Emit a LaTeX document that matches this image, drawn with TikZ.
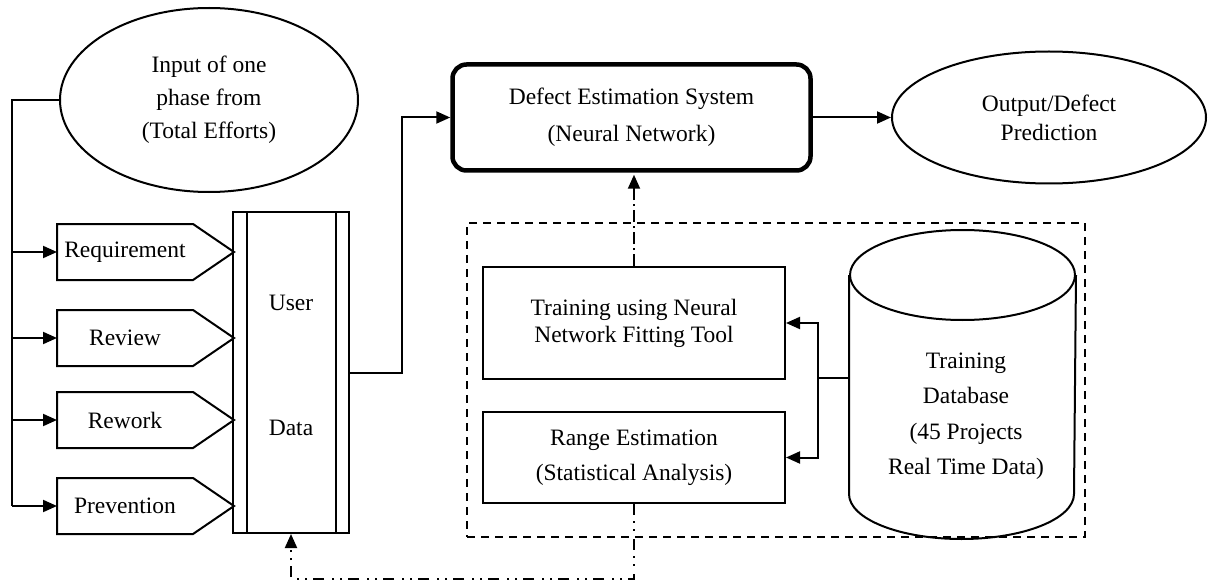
\documentclass[tikz,border=0pt]{standalone}
\usepackage{fontspec}
\setmainfont{Liberation Serif}
\usetikzlibrary{arrows.meta,shapes.geometric,calc}
\begin{document}
\begin{tikzpicture}[x=1pt,y=-1pt,line width=2pt,
  every node/.style={inner sep=0pt,font=\fontsize{23.5}{27}\selectfont},
  arr/.style={-{Triangle[length=14pt,width=12pt]}},
  plainbox/.style={draw,rectangle,align=center},
  phasetag/.style={rectangle,minimum width=134pt,minimum height=54pt},
  oval/.style={draw,ellipse,align=center},
  groupline/.style={dash pattern=on 8pt off 6pt},
  feedline/.style={dash pattern=on 12pt off 4pt on 2pt off 4pt},
  backline/.style={dash pattern=on 11pt off 6pt on 2pt off 6pt on 2pt off 8pt}]

% canvas
\path[use as bounding box,fill=white] (0,0) rectangle (1208,583);

% input ellipse
\node[oval,minimum width=298pt,minimum height=184pt,font=\fontsize{23.5}{33}\selectfont]
  (inp) at (209,100) {Input of one\\phase from\\(Total Efforts)};

% phase tags
\node[phasetag] (req) at (125,252) {Requirement};
\node[phasetag] (rev) at (125,338) {Review};
\node[phasetag] (rwk) at (125,420) {Rework};
\node[phasetag] (prv) at (125,506) {Prevention};
\foreach \n in {req,rev,rwk,prv}{
  \draw (\n.north west) -- (\n.north east) -- ([xshift=41pt]\n.east)
        -- (\n.south east) -- (\n.south west) -- cycle;
}

% user data store
\node[draw,minimum width=116pt,minimum height=321pt] (ud) at (291,372.5) {};
\draw ([xshift=15pt]ud.north west) -- ([xshift=15pt]ud.south west);
\draw ([xshift=-14pt]ud.north east) -- ([xshift=-14pt]ud.south east);
\node (udtop) at (291,303) {User};
\node (udbot) at (291,428) {Data};

% estimation system and output
\node[plainbox,line width=4.5pt,rounded corners=14pt,minimum width=358pt,minimum height=106pt,
  font=\fontsize{23.5}{37}\selectfont] (des) at (631.5,117.5)
  {Defect Estimation System\\(Neural Network)};
\node[oval,minimum width=314pt,minimum height=132pt,font=\fontsize{23.5}{29}\selectfont]
  (out) at (1049,117.5) {Output/Defect\\Prediction};

% training group
\node[draw,groupline,minimum width=618pt,minimum height=314pt] (grp) at (776,380) {};
\node[plainbox,minimum width=302pt,minimum height=112pt,font=\fontsize{23.5}{27}\selectfont]
  (trn) at (634,323) {Training using Neural\\Network Fitting Tool};
\node[plainbox,minimum width=302pt,minimum height=91pt,font=\fontsize{23.5}{35}\selectfont]
  (rng) at (634,457.5) {Range Estimation\\(Statistical Analysis)};

% training database cylinder
\node[rectangle,minimum width=225pt,minimum height=307pt] (db) at (962.5,384.5) {};
\draw ($(db.north west)+(0,45)$) -- ($(db.south west)+(0,-45)$)
  arc[start angle=180,end angle=360,x radius=112.5pt,y radius=45pt]
  -- ($(db.north east)+(0,45)$);
\draw ($(db.north)+(0,45)$) ellipse[x radius=112.5pt,y radius=45pt];
\node[align=center,font=\fontsize{23.5}{35.5}\selectfont] (dbtxt) at (966,416)
  {Training\\Database\\(45 Projects\\Real Time Data)};

% connectors
\coordinate (bus) at (12,506);
\draw (inp.west) -| (bus);
\foreach \n in {req,rev,rwk,prv}{
  \draw[arr] (\n.west -| bus) -- (\n.west);
}
\coordinate (up) at (402,0);
\draw[arr] (ud.east) -| (up |- des.west) -- (des.west);
\draw[arr] (des.east) -- (out.west);
\draw[arr,feedline,shorten >=2pt] (trn.north) -- (trn.north |- des.south);
\coordinate (brk) at (818,378);
\draw (brk -| db.west) -- (brk);
\draw[arr] (brk) |- (trn.east);
\draw[arr] (brk) |- (rng.east);
\coordinate (low) at (0,579);
\draw[arr,backline] (rng.south) -- (rng.south |- low) -| (ud.south);
\end{tikzpicture}
\end{document}
